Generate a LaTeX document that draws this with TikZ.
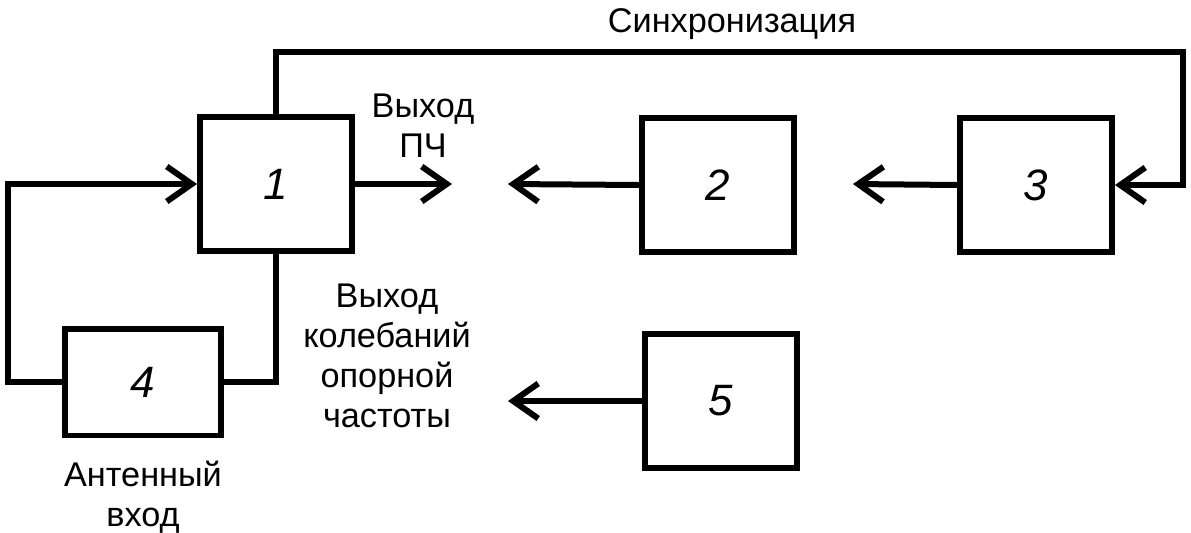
\documentclass[tikz,border=0pt]{standalone}
\usepackage{fontspec}
\setmainfont{Liberation Sans}
\usetikzlibrary{arrows.meta}
\tikzset{
  blok/.style={draw, line width=0.12cm, minimum width=3.04cm, minimum height=2.68cm, inner sep=0pt,
    font=\fontsize{25}{25}\selectfont\itshape},
  sig/.style={line width=0.12cm, -{Straight Barb[length=0.5cm, width=0.7cm]}},
  wire/.style={line width=0.12cm},
  lbl/.style={align=center, inner sep=0pt, font=\fontsize{19.5}{22.8}\selectfont}
}
\begin{document}
\begin{tikzpicture}[x=0.02cm, y=-0.02cm]
  \useasboundingbox (0,0) rectangle (1191,532);
  % blocks
  \node[blok] (b1) at (276,184) {1};
  \node[blok] (b2) at (718,185) {2};
  \node[blok] (b3) at (1036,185) {3};
  \node[blok, minimum width=3.14cm, minimum height=2.14cm] (b4) at (143,382) {4};
  \node[blok] (b5) at (721,401) {5};
  % free ends
  \coordinate (inl) at (8,382);
  \coordinate (sync) at (1183,52);
  \coordinate (pch) at (452,184);
  \coordinate (in2) at (508,184);
  \coordinate (in3) at (853,184);
  \coordinate (in5) at (508,401);
  % connectors
  \draw[sig] (b4.west) -- (inl) |- (b1.west);
  \draw[wire] (b4.east) -| (b1.south);
  \draw[sig] (b1.north) |- (sync) |- (b3.east);
  \draw[sig] (b1.east) -- (pch);
  \draw[sig] (b2.west) -- (in2);
  \draw[sig] (b3.west) -- (in3);
  \draw[sig] (b5.west) -- (in5);
  % labels
  \node[lbl] (tsync) at (732,24) {Синхронизация};
  \node[lbl] (tpch) at (423,126) {Выход\\ПЧ};
  \node[lbl] (top) at (387,356) {Выход\\колебаний\\опорной\\частоты};
  \node[lbl] (tant) at (143,497) {Антенный\\вход};
\end{tikzpicture}
\end{document}
